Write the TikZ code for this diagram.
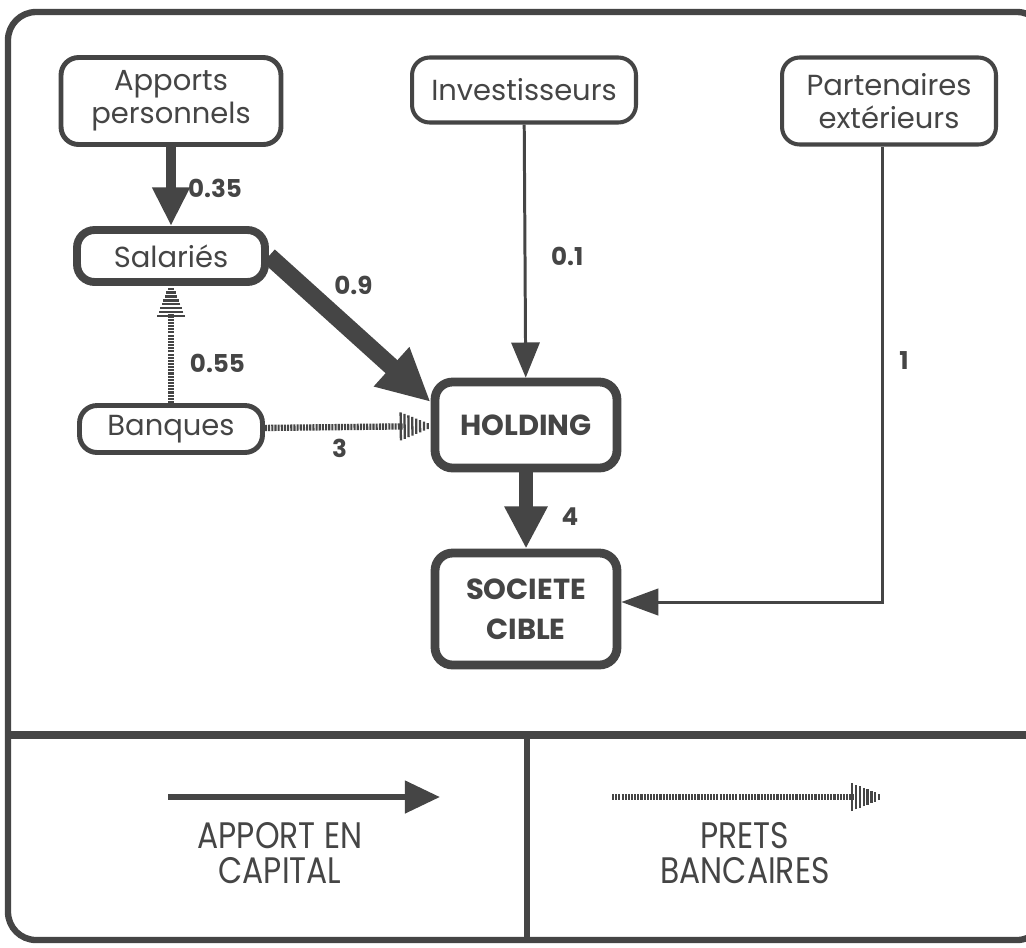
\documentclass[tikz,border=0pt]{standalone}
\usepackage{fontspec}
\setmainfont{Poppins}
\newfontfamily\legendfont[FakeStretch=0.85]{Poppins}
\usepackage{tikz}
\usetikzlibrary{arrows.meta}
\usetikzlibrary{decorations.markings}
\usetikzlibrary{positioning}

\definecolor{ink}{HTML}{454545}

\newcommand{\pretstripes}{\foreach \k in {0,...,7}{\draw[ink, solid, line width=1.3pt, shorten >=0pt, shorten <=0pt] ({(-17+2.2*\k)*1pt},{(-8+0.9*\k)*1pt}) -- ({(-17+2.2*\k)*1pt},{(8-0.9*\k)*1pt});}}

\tikzset{
  box/.style={draw=ink, rounded corners=10pt, align=center, inner sep=0pt, text=ink, font=\fontsize{16.5}{19}\selectfont},
  lbl/.style={text=ink, font=\fontsize{14}{16}\selectfont\bfseries, inner sep=1pt},
  pret/.style={draw=ink, line width=3.6pt, dash pattern=on 1.2pt off 0.6pt, shorten >=16pt,
    postaction={decorate}, decoration={markings, mark=at position 1 with {\pretstripes}}},
}

\begin{document}
\begin{tikzpicture}[x=0.02cm, y=-0.02cm]
        \useasboundingbox (0,0) rectangle (1026,947);
        \fill[white] (0,0) rectangle (1026,947);
        % frame and legend dividers
        \draw[ink, line width=3.6pt, rounded corners=16pt] (8,12) rectangle (1045,940);
        \draw[ink, line width=5pt] (8,735) -- (1030,735);
        \draw[ink, line width=3.4pt] (527,735) -- (527,940);
        \begin{scope}[every node/.style={box}]
        \node[line width=2.8pt, minimum width=4.4cm, minimum height=1.74cm] (apports) at (171,101) {Apports\\personnels};
        \node[line width=2.3pt, minimum width=4.48cm, minimum height=1.3cm] (invest) at (524,90) {Investisseurs};
        \node[line width=2.3pt, minimum width=4.28cm, minimum height=1.74cm] (partners) at (889,101) {Partenaires\\extérieurs};
        \node[line width=4.5pt, minimum width=3.76cm, minimum height=1.04cm] (salaries) at (171,256) {Salariés};
        \node[line width=2.8pt, minimum width=3.66cm, minimum height=0.94cm] (banques) at (171,429) {Banques};
        \node[line width=5pt, minimum width=3.64cm, minimum height=1.72cm, font=\fontsize{16.5}{19}\selectfont\bfseries] (holding) at (526,425) {HOLDING};
        \node[line width=5pt, minimum width=3.64cm, minimum height=2.24cm, font=\fontsize{16.5}{23}\selectfont\bfseries] (cible) at (526,609) {SOCIETE\\CIBLE};
        \end{scope}
        % legend
        \coordinate (capA) at (168,797);
        \coordinate (capB) at (440,797);
        \coordinate (pretA) at (612,797);
        \coordinate (pretB) at (882,797);
        \node[text=ink, align=center, font=\legendfont\fontsize{21}{20}\selectfont] (capital) at (280,853) {APPORT EN\\CAPITAL};
        \node[text=ink, align=center, font=\legendfont\fontsize{21}{20}\selectfont] (prets) at (745,853) {PRETS\\BANCAIRES};
        \begin{scope}[every edge/.style={draw=ink}]
        \path (apports) edge[line width=5.5pt, -{Triangle[width=20pt,length=22pt]}] node[lbl, pos=0.53, right=6pt] {0.35} (salaries);
        \path (salaries.east) edge[line width=10pt, -{Triangle[width=28pt,length=30pt]}] node[lbl, pos=0.34, anchor=south west] {0.9} ([yshift=0.46cm]holding.west);
        \path (invest) edge[line width=1.7pt, -{Triangle[width=16pt,length=20pt]}] node[lbl, pos=0.52, right=13pt] {0.1} (holding);
        \path (holding) edge[line width=8.5pt, -{Triangle[width=23pt,length=24pt]}] node[lbl, pos=0.58, right=15pt] {4} (cible);
        \path ([xshift=-0.14cm]partners.south) edge[line width=1.7pt, -{Triangle[width=15pt,length=21pt]}, to path={|- (\tikztotarget) \tikztonodes}] node[lbl, pos=0.235, right=8pt] {1} ([yshift=0.14cm]cible.east);
        \path (banques) edge[pret] node[lbl, pos=0.34, right=8pt] {0.55} (salaries);
        \path (banques) edge[pret] node[lbl, pos=0.45, below=4pt] {3} (holding);
        \path (capA) edge[line width=3.4pt, -{Triangle[width=18pt,length=20pt]}] (capB);
        \path (pretA) edge[pret] (pretB);
        \end{scope}
\end{tikzpicture}
\end{document}
